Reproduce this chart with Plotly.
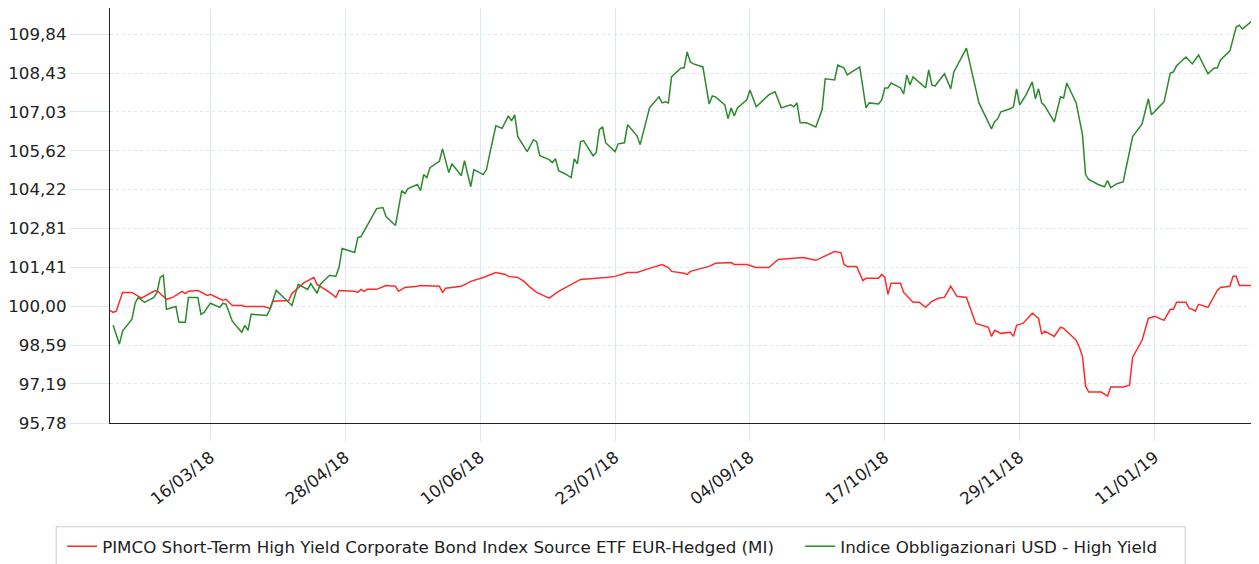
import pandas as pd
import plotly.graph_objects as go

START = "2018-02-12"

# Series 1: PIMCO (red) — day offsets from START and values
red_days = [0, 1, 2, 4, 7, 8, 10, 14, 15, 18, 20, 23, 24, 25, 28, 31, 32, 36, 37, 39,
            42, 43, 49, 51, 52, 57, 58, 62, 63, 65, 66, 70, 72, 73, 78, 79, 80, 81, 82, 85,
            88, 91, 92, 94, 98, 99, 105, 106, 107, 112, 115, 119, 123, 126, 127, 130, 132, 134, 136, 140,
            143, 148, 150, 158, 161, 165, 168, 172, 174, 176, 178, 179, 183, 184, 185, 191, 193, 198, 199, 203,
            206, 210, 213, 218, 219, 221, 225, 231, 233, 234, 235, 238, 240, 241, 245, 246, 247, 248, 249, 252,
            253, 256, 258, 260, 262, 264, 266, 268, 270, 273, 276, 280, 281, 282, 284, 287, 288, 289, 291, 294,
            296, 297, 298, 301, 303, 304, 306, 308, 309, 310, 311, 312, 316, 318, 319, 323, 325, 326, 329, 331,
            333, 336, 338, 339, 340, 343, 344, 345, 346, 347, 350, 353, 354, 357, 358, 359, 360, 364, 365]
red_values = [99.85, 99.78, 99.82, 100.50, 100.50, 100.43, 100.29, 100.54, 100.57, 100.25, 100.32, 100.54, 100.46, 100.54, 100.57, 100.39, 100.43, 100.21, 100.25, 100.03,
              100.03, 99.99, 99.99, 99.92, 100.18, 100.21, 100.46, 100.86, 100.93, 101.04, 100.79, 100.50, 100.32, 100.57, 100.54, 100.50, 100.61, 100.54, 100.61, 100.61,
              100.75, 100.72, 100.54, 100.68, 100.72, 100.75, 100.72, 100.50, 100.65, 100.72, 100.90, 101.04, 101.22, 101.15, 101.08, 101.04, 100.90, 100.68, 100.50, 100.29,
              100.54, 100.83, 100.97, 101.04, 101.08, 101.22, 101.22, 101.37, 101.44, 101.51, 101.40, 101.26, 101.19, 101.15, 101.26, 101.44, 101.55, 101.58, 101.51, 101.51,
              101.40, 101.40, 101.69, 101.73, 101.73, 101.76, 101.66, 101.98, 101.94, 101.51, 101.44, 101.44, 100.93, 101.01, 101.01, 101.15, 101.04, 100.43, 100.83, 100.83,
              100.50, 100.14, 100.14, 99.96, 100.18, 100.29, 100.32, 100.72, 100.36, 100.32, 99.38, 99.24, 98.91, 99.13, 99.02, 99.06, 98.91, 99.31, 99.38, 99.75,
              99.56, 98.99, 99.10, 98.91, 99.24, 99.20, 98.99, 98.77, 98.52, 98.19, 97.11, 96.90, 96.90, 96.75, 97.08, 97.08, 97.15, 98.16, 98.77, 99.56,
              99.64, 99.49, 99.89, 99.89, 100.14, 100.14, 99.92, 99.89, 99.82, 100.07, 99.96, 100.57, 100.68, 100.72, 101.08, 101.08, 100.75, 100.75, 101.01]

# Series 2: USD High Yield index (green)
green_days = [1, 3, 4, 7, 8, 9, 11, 14, 15, 16, 17, 18, 21, 22, 24, 25, 28, 29, 30, 32,
              35, 36, 37, 39, 42, 43, 44, 45, 50, 51, 53, 56, 58, 60, 63, 64, 66, 67, 70, 72,
              73, 74, 78, 79, 80, 85, 87, 88, 91, 93, 94, 95, 98, 99, 100, 101, 102, 105, 106, 108,
              109, 112, 113, 115, 116, 119, 120, 121, 123, 125, 127, 128, 129, 130, 133, 135, 136, 137, 140, 141,
              142, 143, 145, 147, 148, 149, 150, 151, 154, 155, 156, 157, 158, 161, 162, 164, 165, 168, 169, 172,
              175, 176, 177, 178, 179, 182, 183, 184, 185, 186, 189, 191, 192, 193, 196, 197, 198, 199, 200, 203,
              204, 206, 210, 212, 214, 217, 218, 219, 220, 222, 225, 227, 228, 231, 232, 234, 235, 239, 241, 242,
              245, 246, 247, 248, 249, 252, 253, 254, 255, 256, 259, 260, 261, 262, 263, 266, 268, 269, 273, 277,
              281, 282, 283, 284, 287, 288, 289, 290, 292, 294, 295, 296, 297, 298, 301, 303, 304, 305, 308, 310,
              311, 312, 315, 317, 318, 319, 321, 323, 326, 329, 331, 332, 336, 338, 339, 340, 343, 345, 347, 350,
              352, 353, 354, 357, 359, 360, 361, 364, 365]
green_values = [99.31, 98.63, 99.10, 99.53, 100.11, 100.32, 100.14, 100.32, 100.50, 101.04, 101.12, 99.89, 99.99, 99.42, 99.42, 100.32, 100.32, 99.71, 99.78, 100.11,
                99.96, 100.11, 100.07, 99.46, 99.06, 99.31, 99.13, 99.71, 99.67, 99.89, 100.57, 100.25, 100.03, 100.79, 100.61, 100.82, 100.47, 100.79, 101.12, 101.08,
                101.40, 102.09, 101.94, 102.48, 102.52, 103.53, 103.57, 103.24, 102.92, 104.18, 104.07, 104.25, 104.40, 104.18, 104.76, 104.65, 105.01, 105.24, 105.69, 104.83,
                105.15, 104.72, 105.26, 104.32, 104.94, 104.76, 104.94, 105.48, 106.52, 106.43, 106.88, 106.70, 106.92, 106.13, 105.59, 106.02, 105.95, 105.44, 105.30, 105.19,
                105.33, 104.90, 104.79, 104.65, 105.33, 105.15, 105.95, 105.98, 105.44, 105.55, 106.38, 106.49, 105.91, 105.59, 105.87, 105.91, 106.56, 106.16, 105.84, 107.17,
                107.57, 107.35, 107.39, 107.35, 108.29, 108.61, 108.61, 109.19, 108.83, 108.76, 108.65, 107.31, 107.60, 107.57, 107.28, 106.78, 107.17, 106.88, 107.17, 107.46,
                107.82, 107.21, 107.64, 107.75, 107.17, 107.28, 107.21, 107.35, 106.63, 106.63, 106.48, 107.10, 108.22, 108.18, 108.72, 108.61, 108.36, 108.65, 107.17, 107.35,
                107.31, 107.46, 107.89, 107.89, 108.07, 107.89, 107.68, 108.36, 108.00, 108.29, 108.00, 107.89, 108.54, 108.00, 107.96, 108.40, 107.86, 108.47, 109.33, 107.35,
                106.41, 106.67, 106.78, 107.03, 107.14, 107.21, 107.86, 107.28, 107.64, 108.11, 107.50, 107.86, 107.35, 107.24, 106.66, 107.57, 107.53, 108.07, 107.35, 106.20,
                104.76, 104.58, 104.40, 104.32, 104.54, 104.29, 104.43, 104.50, 106.13, 106.59, 107.50, 106.92, 107.39, 108.43, 108.47, 108.69, 109.01, 108.76, 109.08, 108.40,
                108.61, 108.61, 108.90, 109.23, 110.09, 110.16, 110.02, 110.31, 110.78]

y_tickvals = [95.78, 97.19, 98.59, 100.00, 101.41, 102.81, 104.22, 105.62, 107.03, 108.43, 109.84]
y_ticktext = ["95,78", "97,19", "98,59", "100,00", "101,41", "102,81", "104,22", "105,62", "107,03", "108,43", "109,84"]
x_tickvals = ["2018-03-16", "2018-04-28", "2018-06-10", "2018-07-23", "2018-09-04", "2018-10-17", "2018-11-29", "2019-01-11"]
x_ticktext = ["16/03/18", "28/04/18", "10/06/18", "23/07/18", "04/09/18", "17/10/18", "29/11/18", "11/01/19"]

name_red = "PIMCO Short-Term High Yield Corporate Bond Index Source ETF EUR-Hedged (MI)"
name_green = "Indice Obbligazionari USD - High Yield"

start = pd.Timestamp(START)
red_x = [start + pd.Timedelta(days=d) for d in red_days]
green_x = [start + pd.Timedelta(days=d) for d in green_days]

GRID = "#dbe7f5"
FONT = "DejaVu Sans"
FS = 16.7
TXT = "#222222"

fig = go.Figure()
fig.add_trace(go.Scatter(x=red_x, y=red_values, mode="lines", name=name_red, legend="legend",
                         line=dict(color="#ff2b2b", width=1.5)))
fig.add_trace(go.Scatter(x=green_x, y=green_values, mode="lines", name=name_green, legend="legend2",
                         line=dict(color="#2b8a2b", width=1.5)))

leg_common = dict(orientation="h", xanchor="left", y=-0.255, yanchor="top",
                  borderwidth=0, bgcolor="rgba(0,0,0,0)",
                  font=dict(family=FONT, size=FS, color=TXT))

fig.update_layout(
    width=1251, height=556,
    margin=dict(l=99, r=4, t=0, b=132),
    paper_bgcolor="white", plot_bgcolor="white",
    font=dict(family=FONT, size=FS, color=TXT),
    showlegend=True,
    legend=dict(x=-0.0418, **leg_common),
    legend2=dict(x=0.6028, **leg_common),
    shapes=[dict(type="rect", xref="paper", yref="paper",
                 x0=-0.047, x1=0.939, y0=-0.37, y1=-0.25,
                 line=dict(color="#cccccc", width=1), fillcolor="rgba(0,0,0,0)",
                 layer="below")],
    xaxis=dict(type="date", range=["2018-02-12", "2019-02-12"],
               tickvals=x_tickvals, ticktext=x_ticktext, tickangle=-38,
               showgrid=True, gridcolor=GRID, gridwidth=1,
               ticks="outside", ticklen=17, tickcolor=GRID, tickwidth=1,
               showline=True, linecolor=TXT, linewidth=1.2, zeroline=False,
               tickfont=dict(family=FONT, size=FS, color=TXT)),
    yaxis=dict(range=[95.78, 110.78], tickvals=y_tickvals, ticktext=y_ticktext,
               showgrid=True, gridcolor=GRID, gridwidth=1, griddash="dot",
               ticks="outside", ticklen=39, tickcolor=GRID, tickwidth=1,
               showline=True, linecolor=TXT, linewidth=1.2, zeroline=False,
               tickfont=dict(family=FONT, size=FS, color=TXT)),
)

fig.write_html("out.html")
